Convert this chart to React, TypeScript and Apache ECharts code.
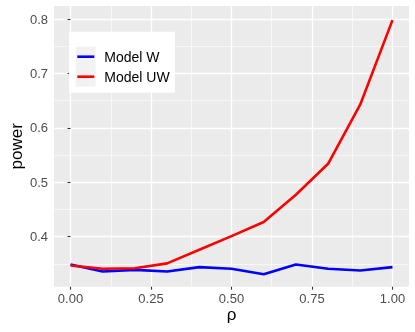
import React, { useEffect, useRef } from "react";
import * as echarts from "echarts";

const rho = [0, 0.1, 0.2, 0.3, 0.4, 0.5, 0.6, 0.7, 0.8, 0.9, 1.0];
const modelW = [0.349, 0.336, 0.339, 0.336, 0.344, 0.341, 0.331, 0.349, 0.341, 0.338, 0.344];
const modelUW = [0.347, 0.341, 0.342, 0.351, 0.376, 0.401, 0.427, 0.477, 0.534, 0.643, 0.798];
const xTicks = [0, 0.25, 0.5, 0.75, 1];
const xMinor = [0.125, 0.375, 0.625, 0.875];
const yTicks = [0.4, 0.5, 0.6, 0.7, 0.8];
const yMinor = [0.35, 0.45, 0.55, 0.65, 0.75];
const seriesNames = ["Model W", "Model UW"];

const FONT = "'Liberation Sans', Arial, sans-serif";

export default function App() {
  const ref = useRef<HTMLDivElement>(null);
  useEffect(() => {
    if (!ref.current) return;
    const chart = echarts.init(ref.current, null, { renderer: "svg" });
    const tickStyle = { color: "#333333", width: 1.1 };
    const majorGrid = { show: true, lineStyle: { color: "#FFFFFF", width: 1.3 } };
    const minorGrid = { show: true, lineStyle: { color: "#FFFFFF", width: 0.6 } };
    chart.setOption({
      animation: false,
      textStyle: { fontFamily: FONT },
      grid: {
        left: 50,
        right: 6,
        top: 6,
        bottom: 45.3,
        show: true,
        backgroundColor: "#EBEBEB",
        borderWidth: 0,
      },
      xAxis: [
        {
          type: "value",
          min: -0.0513,
          max: 1.0513,
          axisLine: { show: false },
          axisTick: { show: true, length: 3, lineStyle: tickStyle, customValues: xTicks },
          axisLabel: {
            customValues: xTicks,
            color: "#4D4D4D",
            fontSize: 13,
            fontFamily: FONT,
            margin: 5,
            formatter: (v: number) => v.toFixed(2),
          },
          splitLine: majorGrid,
          name: "ρ",
          nameLocation: "middle",
          nameGap: 19,
          nameMoveOverlap: false,
          nameTextStyle: { color: "#000000", fontSize: 17, fontFamily: FONT, lineHeight: 17 },
        },
        {
          type: "value",
          min: -0.0513,
          max: 1.0513,
          axisLine: { show: false },
          axisTick: { show: false, customValues: xMinor },
          axisLabel: { show: false, customValues: xMinor },
          splitLine: minorGrid,
        },
      ],
      yAxis: [
        {
          type: "value",
          min: 0.3081,
          max: 0.8239,
          axisLine: { show: false },
          axisTick: { show: true, length: 3, lineStyle: tickStyle, customValues: yTicks },
          axisLabel: {
            customValues: yTicks,
            color: "#4D4D4D",
            fontSize: 13,
            fontFamily: FONT,
            margin: 6,
            formatter: (v: number) => v.toFixed(1),
          },
          splitLine: majorGrid,
          name: "power",
          nameLocation: "middle",
          nameGap: 29,
          nameMoveOverlap: false,
          nameRotate: 90,
          nameTextStyle: { color: "#000000", fontSize: 17, fontFamily: FONT },
        },
        {
          type: "value",
          min: 0.3081,
          max: 0.8239,
          axisLine: { show: false },
          axisTick: { show: false, customValues: yMinor },
          axisLabel: { show: false, customValues: yMinor },
          splitLine: minorGrid,
        },
      ],
      graphic: [
        {
          type: "rect",
          z: 3,
          shape: { x: 69, y: 31.7, width: 106, height: 61 },
          style: { fill: "#FFFFFF" },
        },
        {
          type: "rect",
          z: 4,
          shape: { x: 75.7, y: 46.7, width: 20, height: 40 },
          style: { fill: "#F2F2F2" },
        },
      ],
      legend: {
        z: 6,
        orient: "vertical",
        left: 77.3,
        top: 49.7,
        padding: 0,
        itemGap: 6,
        icon: "rect",
        itemWidth: 17,
        itemHeight: 2.6,
        data: seriesNames,
        textStyle: {
          fontSize: 14,
          color: "#000000",
          fontFamily: FONT,
          lineHeight: 14,
          padding: [0, 0, 0, 5],
        },
      },
      series: [
        {
          name: seriesNames[0],
          type: "line",
          showSymbol: false,
          symbol: "none",
          color: "#0000FF",
          lineStyle: { color: "#0000FF", width: 2.6 },
          data: rho.map((r, i) => [r, modelW[i]]),
        },
        {
          name: seriesNames[1],
          type: "line",
          showSymbol: false,
          symbol: "none",
          color: "#FF0000",
          lineStyle: { color: "#FF0000", width: 2.6 },
          data: rho.map((r, i) => [r, modelUW[i]]),
        },
      ],
    });
    return () => chart.dispose();
  }, []);
  return (
    <div
      ref={ref}
      style={{ position: "fixed", left: 0, top: 0, width: 415, height: 332 }}
    />
  );
}
